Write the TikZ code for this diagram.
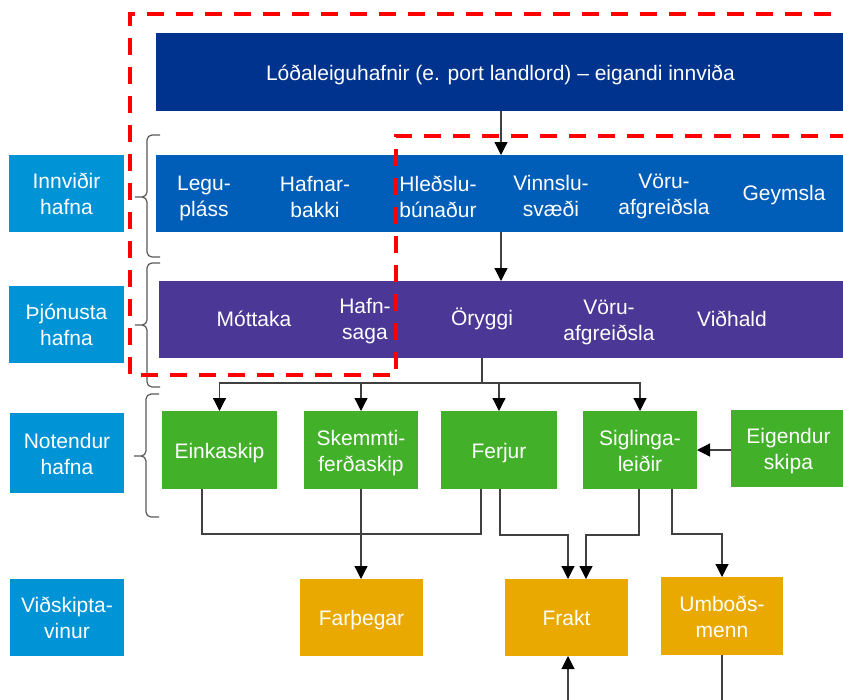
\documentclass[tikz,border=0pt]{standalone}
\usepackage{fontspec}
\setmainfont{Liberation Sans}
\usetikzlibrary{arrows.meta}
\definecolor{navy}{HTML}{00338D}
\definecolor{rowblue}{HTML}{005EB8}
\definecolor{rowpurple}{HTML}{4A3796}
\definecolor{lblblue}{HTML}{0093D6}
\definecolor{grn}{HTML}{43B02A}
\definecolor{org}{HTML}{E9A900}
\definecolor{dashred}{HTML}{FF0000}
\newcommand{\lnstrut}{\rule[-5pt]{0pt}{26pt}}
\begin{document}
\begin{tikzpicture}[x=1pt,y=-1pt,
  lbl/.style={font=\fontsize{21}{26}\selectfont,text=white,align=center},
  box/.style={rectangle,inner sep=0pt,outer sep=0pt,lbl},
  txt/.style={inner sep=0pt,lbl},
  conn/.style={draw=black!75,line width=1.2pt},
  arr/.style={conn,-{Triangle[width=13pt,length=13pt,color=black]}},
  brc/.style={draw=black!65,line width=1.2pt,rounded corners=5pt},
  reddash/.style={draw=dashred,line width=4pt,dash pattern=on 17pt off 12pt}]
\clip (0,0) rectangle (843,699);
\useasboundingbox (0,0) rectangle (843,699);

% wide rows
\node[box,fill=navy,minimum width=704pt,minimum height=78pt] (top) at (508,72) {};
\node[txt] (toptxt) at (500.5,72) {\lnstrut Lóðaleiguhafnir (e. port landlord) – eigandi innviða};
\node[box,fill=rowblue,minimum width=704pt,minimum height=77pt] (row1) at (508,193.5) {};
\node[box,fill=rowpurple,minimum width=701pt,minimum height=77pt] (row3) at (509.5,319.5) {};

% row 1 texts
\node[txt] (legu) at (204,195.7) {\lnstrut Legu-\\\lnstrut pláss};
\node[txt] (hafnar) at (315,196) {\lnstrut Hafnar-\\\lnstrut bakki};
\node[txt] (hledslu) at (438,196) {\lnstrut Hleðslu-\\\lnstrut búnaður};
\node[txt] (vinnslu) at (551,195.5) {\lnstrut Vinnslu-\\\lnstrut svæði};
\node[txt] (voru1) at (664,193) {\lnstrut Vöru-\\\lnstrut afgreiðsla};
\node[txt] (geymsla) at (784,192) {\lnstrut Geymsla};

% row 3 texts
\node[txt] (mottaka) at (254,318) {\lnstrut Móttaka};
\node[txt] (hafnsaga) at (365,318) {\lnstrut Hafn-\\\lnstrut saga};
\node[txt] (oryggi) at (482,317) {\lnstrut Öryggi};
\node[txt] (voru2) at (609,319) {\lnstrut Vöru-\\\lnstrut afgreiðsla};
\node[txt] (vidhald) at (732,318.5) {\lnstrut Viðhald};

% left labels
\node[box,fill=lblblue,minimum width=115pt,minimum height=77pt] (innv) at (66.5,193.5) {\lnstrut Innviðir\\\lnstrut hafna};
\node[box,fill=lblblue,minimum width=115pt,minimum height=77pt] (thjon) at (66.5,324.5) {\lnstrut Þjónusta\\\lnstrut hafna};
\node[box,fill=lblblue,minimum width=114pt,minimum height=80pt] (notendur) at (67,453) {\lnstrut Notendur\\\lnstrut hafna};
\node[box,fill=lblblue,minimum width=114pt,minimum height=77pt] (vidsk) at (67,617.5) {\lnstrut Viðskipta-\\\lnstrut vinur};

% green boxes
\node[box,fill=grn,minimum width=115pt,minimum height=78pt] (eink) at (219.5,450) {\lnstrut Einkaskip};
\node[box,fill=grn,minimum width=114pt,minimum height=78pt] (skemm) at (361,450) {\lnstrut Skemmti-\\\lnstrut ferðaskip};
\node[box,fill=grn,minimum width=116pt,minimum height=78pt] (ferjur) at (499,450) {\lnstrut Ferjur};
\node[box,fill=grn,minimum width=114pt,minimum height=78pt] (sigl) at (640,450) {\lnstrut Siglinga-\\\lnstrut leiðir};
\node[box,fill=grn,minimum width=115pt,minimum height=77pt] (eigend) at (788.5,448.5) {\lnstrut Eigendur\\\lnstrut skipa};

% orange boxes
\node[box,fill=org,minimum width=123pt,minimum height=77pt] (farth) at (361.5,617.5) {\lnstrut Farþegar};
\node[box,fill=org,minimum width=123pt,minimum height=77pt] (frakt) at (566.5,617.5) {\lnstrut Frakt};
\node[box,fill=org,minimum width=122pt,minimum height=78pt] (umbod) at (722,616) {\lnstrut Umboðs-\\\lnstrut menn};

% braces
\draw[brc] (160,135) -- (147,135) -- (147,197) -- (135,197)
           (135,197) -- (147,197) -- (147,257) -- (160,257);
\draw[brc] (160,263) -- (147,263) -- (147,325) -- (135,325)
           (135,325) -- (147,325) -- (147,387) -- (160,387);
\draw[brc] (159,394) -- (146,394) -- (146,456) -- (134,456)
           (134,456) -- (146,456) -- (146,517) -- (159,517);

% connectors top
\draw[arr] (top.south -| 501,0) -- (row1.north -| 501,0);
\draw[arr] (row1.south -| 501,0) -- (row3.north -| 501,0);

% bus to users
\coordinate (bus) at (482,383);
\draw[conn] (row3.south -| bus) -- (bus);
\draw[arr] (bus) -| (eink.north);
\draw[arr] (bus) -| (skemm.north);
\draw[arr] (bus) -| (ferjur.north);
\draw[arr] (bus) -| (sigl.north);

% users to customers
\draw[conn] (eink.south -| 202,0) -- (202,534) -| (ferjur.south -| 481,0);
\draw[arr] (skemm.south) -- (farth.north -| skemm.south);
\draw[arr] (ferjur.south -| 500,0) -- (500,535) -| (frakt.north -| 568,0);
\draw[arr] (sigl.south -| 639,0) -- (639,535) -| (frakt.north -| 586,0);
\draw[arr] (sigl.south -| 672,0) -- (672,534) -| (umbod.north);
\draw[arr] (eigend.west |- sigl.east) -- (sigl.east);

% free ends at bottom
\coordinate (fb) at (568,702);
\coordinate (ub) at (722,702);
\draw[arr] (fb) -- (frakt.south -| fb);
\draw[conn] (umbod.south) -- (ub);

% red dashed region
\draw[reddash] (860,14) -- (130,14) -- (130,375) -- (396,375) -- (396,136) -- (860,136);
\end{tikzpicture}
\end{document}
